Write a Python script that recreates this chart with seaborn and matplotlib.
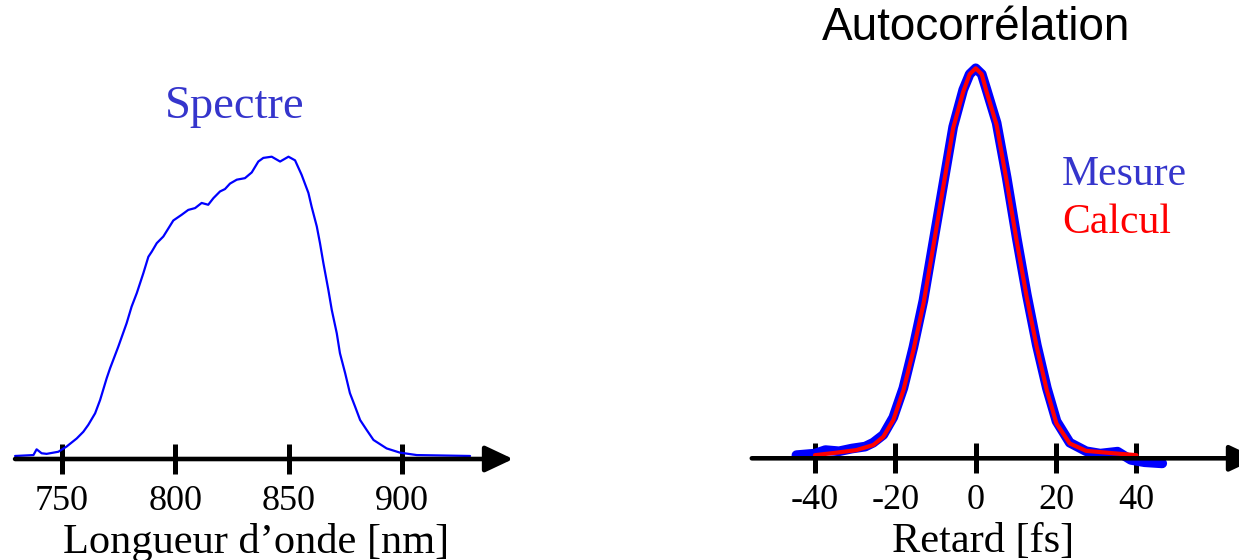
import matplotlib
matplotlib.use("Agg")
import seaborn as sns
from matplotlib import pyplot as plt

# spectre (longueur d'onde en nm, intensite normalisee)
spectre_nm = [729.3, 737.4, 738.8, 741.0, 743.2, 748.4, 752.0, 756.5, 759.4, 761.6,
              764.6, 766.8, 769.7, 771.2, 774.8, 778.5, 780.7, 783.0, 785.9, 788.1,
              789.6, 791.8, 794.7, 799.1, 802.8, 805.7, 808.7, 811.6, 814.5, 816.8,
              819.7, 821.9, 824.1, 827.1, 830.7, 833.7, 836.6, 838.8, 842.5, 846.2,
              849.9, 852.8, 855.7, 858.7, 860.1, 862.4, 863.8, 865.3, 867.5, 869.0,
              871.2, 872.6, 874.9, 877.0, 879.3, 881.5, 884.4, 887.4, 893.2, 899.1,
              906.5, 930.0]
spectre_int = [0.010, 0.013, 0.032, 0.019, 0.017, 0.024, 0.041, 0.068, 0.090, 0.113,
               0.151, 0.195, 0.267, 0.300, 0.371, 0.449, 0.504, 0.549, 0.615, 0.669,
               0.686, 0.714, 0.736, 0.789, 0.808, 0.824, 0.830, 0.847, 0.841, 0.863,
               0.885, 0.893, 0.911, 0.924, 0.929, 0.948, 0.984, 0.996, 1.000, 0.984,
               1.000, 0.988, 0.940, 0.880, 0.835, 0.769, 0.714, 0.648, 0.559, 0.493,
               0.416, 0.350, 0.284, 0.218, 0.173, 0.129, 0.096, 0.063, 0.035, 0.021,
               0.013, 0.010]

# autocorrelation mesuree (retard en fs)
mesure_fs = [-44.6, -40.0, -37.4, -34.0, -30.8, -27.5, -25.5, -23.0, -20.5, -18.0,
             -15.5, -13.0, -10.6, -8.1, -5.6, -3.1, -1.5, 0.0, 1.5, 2.7,
             5.2, 7.7, 10.2, 12.7, 15.2, 17.7, 20.1, 23.4, 27.5, 31.0,
             35.3, 38.6, 42.0, 46.4]
mesure_val = [0.008, 0.012, 0.021, 0.018, 0.025, 0.030, 0.040, 0.060, 0.105, 0.180,
              0.285, 0.405, 0.550, 0.700, 0.850, 0.945, 0.985, 1.000, 0.985, 0.945,
              0.860, 0.720, 0.565, 0.420, 0.290, 0.180, 0.095, 0.040, 0.018, 0.012,
              0.017, -0.004, -0.010, -0.013]

# autocorrelation calculee
calcul_fs = [-40.0, -35.0, -29.7, -25.5, -23.0, -20.5, -18.0, -15.5, -13.0, -10.6,
             -8.1, -5.6, -3.1, -1.5, 0.0, 1.5, 2.7, 5.2, 7.7, 10.2,
             12.7, 15.2, 17.7, 20.1, 23.4, 27.5, 34.2, 40.0]
calcul_val = [0.008, 0.014, 0.021, 0.034, 0.055, 0.098, 0.174, 0.277, 0.396, 0.540,
              0.694, 0.847, 0.940, 0.985, 1.000, 0.985, 0.940, 0.855, 0.711, 0.557,
              0.413, 0.285, 0.174, 0.089, 0.038, 0.019, 0.013, 0.008]

ticks_nm = [750, 800, 850, 900]
ticks_fs = [-40, -20, 0, 20, 40]

W, H = 1239, 560
sns.set_theme(style="white")
plt.rcParams["font.family"] = ["Liberation Serif", "DejaVu Serif"]
plt.rcParams["text.color"] = "black"
plt.rcParams["axes.labelcolor"] = "black"

fig = plt.figure(figsize=(W / 100, H / 100), dpi=100)
ax1 = fig.add_axes([0, 0, 512 / W, 1])
ax2 = fig.add_axes([727 / W, 0, (W - 727) / W, 1])

blue_txt = "#3535cc"


def style_axis(ax, ticks, x0, x1, start, tip):
    for s in ax.spines.values():
        s.set_visible(False)
    ax.spines["bottom"].set_position(("data", 0))
    ax.set_yticks([])
    ax.set_xticks(ticks)
    ax.set_xticklabels([str(t) for t in ticks])
    ax.tick_params(axis="x", direction="inout", length=21, width=3.6, color="black",
                   bottom=True, top=False, labelsize=26, pad=8, labelcolor="black")
    ax.set_xlim(x0, x1)
    ax.annotate("", xy=(tip, 0), xytext=(start, 0), xycoords="data",
                annotation_clip=False,
                arrowprops=dict(arrowstyle="-|>,head_length=0.85,head_width=0.4",
                                lw=3.3, color="black", mutation_scale=20,
                                shrinkA=0, shrinkB=0))


# spectre
sns.lineplot(x=spectre_nm, y=spectre_int, ax=ax1, color="#0000ff", lw=1.6)
ax1.set_ylim(-(H - 459) / 302.3, 459 / 302.3)
style_axis(ax1, ticks_nm, 722.65, 948.5, 729.3, 949)
ax1.set_xlabel("Longueur d’onde [nm]", fontsize=30.5, labelpad=4)
ax1.text(826.3, 1 - 118.3 / H, "Spectre", transform=ax1.get_xaxis_transform(),
         ha="center", va="baseline", fontsize=33.5, color=blue_txt)

# autocorrelation
sns.lineplot(x=mesure_fs, y=mesure_val, ax=ax2, color="#0000ff", lw=7)
sns.lineplot(x=calcul_fs, y=calcul_val, ax=ax2, color="#ff0000", lw=3)
ax2.set_ylim(-(H - 458.3) / 390, 458.3 / 390)
style_axis(ax2, ticks_fs, -61.87, 65.5, -55.7, 70)
ax2.set_xlabel("Retard [fs]", fontsize=30.5, labelpad=4)
ax2.text(0, 1 - 40 / H, "Autocorrélation", transform=ax2.get_xaxis_transform(),
         ha="center", va="baseline", fontsize=33, family=["Liberation Sans", "DejaVu Sans"],
         color="black")
ax2.text(21.5, 1 - 185 / H, "Mesure", transform=ax2.get_xaxis_transform(),
         ha="left", va="baseline", fontsize=30, color=blue_txt)
ax2.text(21.6, 1 - 232.7 / H, "Calcul", transform=ax2.get_xaxis_transform(),
         ha="left", va="baseline", fontsize=30, color="#ff0000")

fig.savefig("out.png", dpi=100)
